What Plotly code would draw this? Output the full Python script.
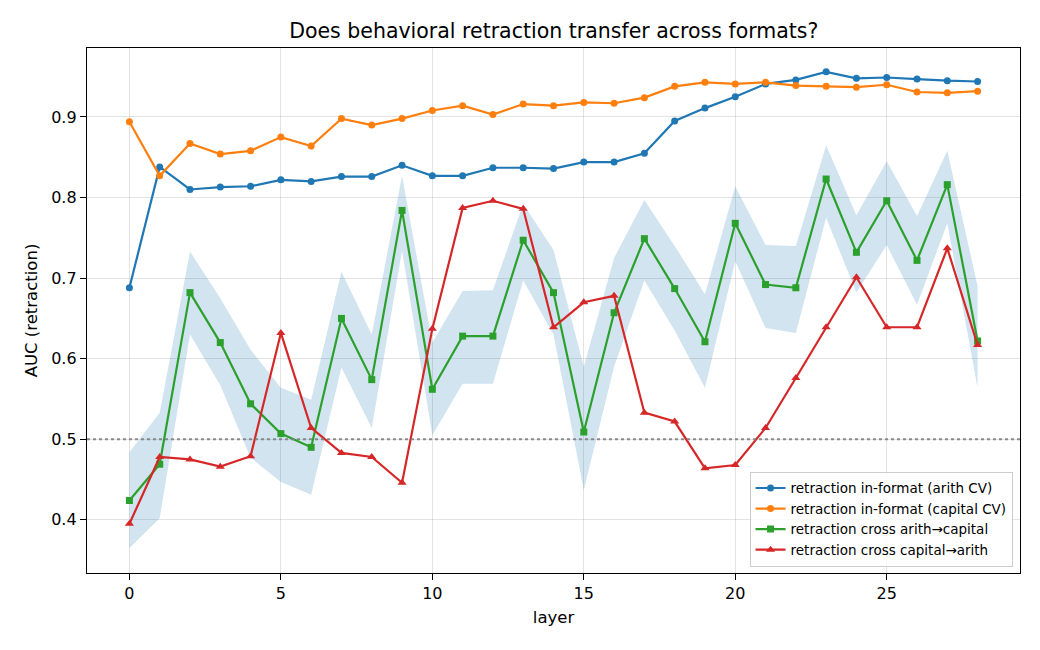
import plotly.graph_objects as go

layers = list(range(29))

arith_cv = [0.688, 0.838, 0.810, 0.813, 0.814, 0.822, 0.820, 0.826, 0.826, 0.840,
            0.827, 0.827, 0.837, 0.837, 0.836, 0.844, 0.844, 0.855, 0.895, 0.911,
            0.925, 0.941, 0.946, 0.956, 0.948, 0.949, 0.947, 0.945, 0.944]

capital_cv = [0.894, 0.827, 0.867, 0.854, 0.858, 0.875, 0.864, 0.898, 0.890, 0.898,
              0.908, 0.914, 0.903, 0.916, 0.914, 0.918, 0.917, 0.924, 0.938, 0.943,
              0.941, 0.943, 0.939, 0.938, 0.937, 0.940, 0.931, 0.930, 0.932]

cross_a2c = [0.424, 0.469, 0.682, 0.620, 0.544, 0.507, 0.490, 0.650, 0.574, 0.784,
             0.562, 0.628, 0.628, 0.747, 0.682, 0.509, 0.657, 0.749, 0.687, 0.621,
             0.768, 0.692, 0.688, 0.823, 0.732, 0.796, 0.722, 0.816, 0.622]

cross_a2c_hi = [0.484, 0.533, 0.733, 0.675, 0.611, 0.564, 0.549, 0.708, 0.630, 0.827,
                0.620, 0.684, 0.685, 0.792, 0.735, 0.590, 0.725, 0.797, 0.740, 0.680,
                0.814, 0.741, 0.740, 0.865, 0.778, 0.845, 0.777, 0.858, 0.690]

cross_a2c_lo = [0.365, 0.402, 0.630, 0.567, 0.477, 0.447, 0.431, 0.589, 0.514, 0.734,
                0.505, 0.569, 0.569, 0.697, 0.630, 0.437, 0.590, 0.697, 0.635, 0.564,
                0.721, 0.638, 0.632, 0.775, 0.682, 0.741, 0.667, 0.768, 0.564]

cross_c2a = [0.395, 0.478, 0.475, 0.466, 0.479, 0.632, 0.514, 0.483, 0.478, 0.446,
             0.637, 0.787, 0.796, 0.786, 0.639, 0.670, 0.678, 0.533, 0.522, 0.464,
             0.468, 0.514, 0.576, 0.639, 0.701, 0.639, 0.639, 0.737, 0.617]

names = ["retraction in-format (arith CV)",
         "retraction in-format (capital CV)",
         "retraction cross arith→capital",
         "retraction cross capital→arith"]

x_ticks = [0, 5, 10, 15, 20, 25]
y_ticks = [0.4, 0.5, 0.6, 0.7, 0.8, 0.9]

FONT = "DejaVu Sans, Liberation Sans, sans-serif"

fig = go.Figure()

# band for cross arith->capital
fig.add_trace(go.Scatter(
    x=layers + layers[::-1],
    y=cross_a2c_hi + cross_a2c_lo[::-1],
    fill="toself", fillcolor="rgba(31,119,180,0.2)",
    line=dict(width=0), mode="lines", hoverinfo="skip", showlegend=False))

# chance line
fig.add_hline(y=0.5, line=dict(color="rgba(128,128,128,0.9)", width=2, dash="dot"))

series = [
    (arith_cv, "#1f77b4", "circle", 7),
    (capital_cv, "#ff7f0e", "circle", 7),
    (cross_a2c, "#2ca02c", "square", 7),
    (cross_c2a, "#d62728", "triangle-up", 8),
]
for (vals, col, sym, ms), nm in zip(series, names):
    fig.add_trace(go.Scatter(
        x=layers, y=vals, name=nm, mode="lines+markers",
        line=dict(color=col, width=2.2),
        marker=dict(color=col, symbol=sym, size=ms, line=dict(width=0))))

axis_common = dict(
    showline=True, linecolor="black", linewidth=1.3, mirror=True,
    ticks="outside", ticklen=6, tickwidth=1.3, tickcolor="black",
    showgrid=True, gridcolor="rgba(176,176,176,0.35)", gridwidth=1.2,
    zeroline=False, tickfont=dict(family=FONT, size=16, color="black"),
)

fig.update_xaxes(range=[-1.4, 29.4], tickvals=x_ticks,
                 title=dict(text="layer", font=dict(family=FONT, size=16.5, color="black"), standoff=9),
                 **axis_common)
fig.update_yaxes(range=[0.334, 0.9856], tickvals=y_ticks, tickformat=".1f",
                 title=dict(text="AUC (retraction)", font=dict(family=FONT, size=16.5, color="black"), standoff=9),
                 **axis_common)

fig.update_layout(
    width=1040, height=650,
    margin=dict(l=87, r=20, t=48, b=77),
    paper_bgcolor="white", plot_bgcolor="white",
    font=dict(family=FONT, color="black"),
    title=dict(text="Does behavioral retraction transfer across formats?",
               x=0.5325, xanchor="center", y=0.952, yanchor="middle",
               font=dict(family=FONT, size=20.5, color="black")),
    legend=dict(x=0.992, y=0.012, xanchor="right", yanchor="bottom",
                bgcolor="rgba(255,255,255,0.8)", bordercolor="#cccccc", borderwidth=1,
                font=dict(family=FONT, size=13.5, color="black"),
                tracegroupgap=1, itemwidth=30),
    showlegend=True,
)

fig.write_html("out.html")
